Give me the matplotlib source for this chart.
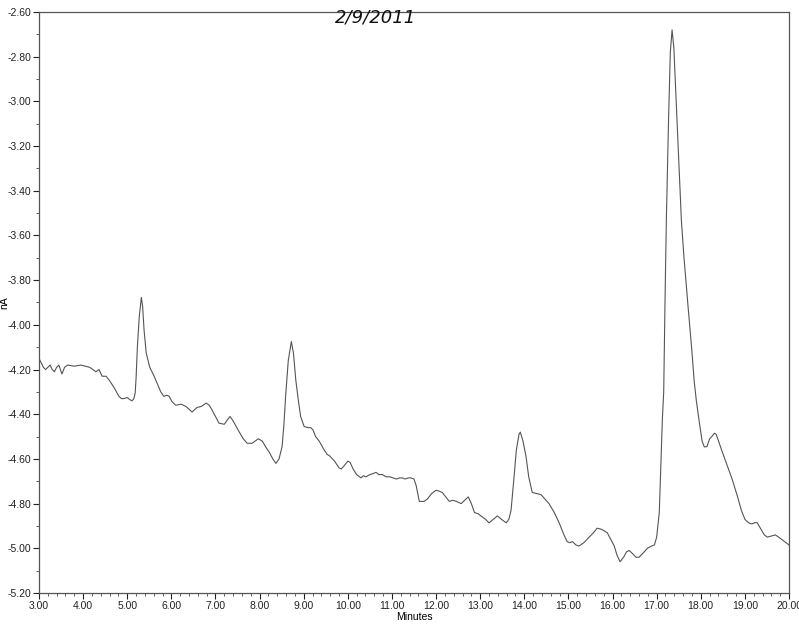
import matplotlib
matplotlib.use("Agg")
import matplotlib.pyplot as plt
from matplotlib.ticker import MultipleLocator, FormatStrFormatter

time_min = [3.00, 3.05, 3.10, 3.15, 3.20, 3.25, 3.30, 3.35, 3.40, 3.45, 3.52, 3.58, 3.65, 3.80, 3.95,
            4.05, 4.15, 4.29, 4.36, 4.43, 4.52, 4.60, 4.70, 4.81, 4.87, 4.93, 5.00, 5.06, 5.11, 5.15,
            5.18, 5.20, 5.23, 5.27, 5.32, 5.35, 5.38, 5.43, 5.51, 5.61, 5.71, 5.76, 5.83, 5.90, 5.95,
            6.02, 6.10, 6.22, 6.33, 6.47, 6.58, 6.68, 6.79, 6.86, 6.92, 7.00, 7.08, 7.20, 7.27, 7.33,
            7.40, 7.54, 7.63, 7.72, 7.83, 7.90, 7.97, 8.06, 8.15, 8.22, 8.30, 8.37, 8.44, 8.51, 8.55,
            8.59, 8.65, 8.72, 8.77, 8.82, 8.88, 8.93, 9.01, 9.10, 9.16, 9.21, 9.27, 9.35, 9.45, 9.53,
            9.58, 9.70, 9.80, 9.85, 9.92, 10.00, 10.05, 10.12, 10.20, 10.30, 10.35, 10.41, 10.50, 10.58,
            10.64, 10.70, 10.78, 10.87, 10.95, 11.03, 11.10, 11.17, 11.24, 11.30, 11.37, 11.43, 11.50,
            11.55, 11.62, 11.73, 11.80, 11.90, 12.00, 12.08, 12.14, 12.22, 12.30, 12.38, 12.46, 12.57,
            12.65, 12.73, 12.80, 12.87, 12.95, 13.05, 13.12, 13.20, 13.30, 13.39, 13.48, 13.59, 13.65,
            13.70, 13.75, 13.82, 13.88, 13.91, 13.97, 14.04, 14.10, 14.18, 14.28, 14.38, 14.47, 14.56,
            14.68, 14.79, 14.90, 14.97, 15.03, 15.09, 15.17, 15.24, 15.35, 15.47, 15.57, 15.65, 15.75,
            15.88, 15.96, 16.04, 16.10, 16.17, 16.25, 16.32, 16.38, 16.46, 16.53, 16.60, 16.70, 16.79,
            16.88, 16.95, 17.00, 17.06, 17.10, 17.13, 17.16, 17.19, 17.22, 17.27, 17.31, 17.35, 17.39,
            17.46, 17.54, 17.56, 17.62, 17.70, 17.80, 17.85, 17.90, 17.97, 18.03, 18.08, 18.14, 18.20,
            18.25, 18.31, 18.35, 18.42, 18.49, 18.60, 18.71, 18.82, 18.92, 19.00, 19.05, 19.12, 19.17,
            19.23, 19.28, 19.35, 19.44, 19.51, 19.60, 19.69, 19.80, 19.90, 20.00]

signal_nA = [-4.15, -4.17, -4.19, -4.20, -4.19, -4.18, -4.20, -4.21, -4.19, -4.18, -4.22, -4.19, -4.18, -4.185, -4.18,
             -4.185, -4.19, -4.21, -4.20, -4.23, -4.23, -4.25, -4.28, -4.32, -4.33, -4.33, -4.325, -4.335, -4.34, -4.33,
             -4.305, -4.24, -4.10, -3.97, -3.877, -3.92, -4.02, -4.126, -4.19, -4.23, -4.277, -4.30, -4.32, -4.315, -4.32,
             -4.345, -4.36, -4.355, -4.365, -4.39, -4.37, -4.365, -4.35, -4.36, -4.38, -4.41, -4.44, -4.445, -4.425, -4.41,
             -4.43, -4.48, -4.51, -4.53, -4.53, -4.52, -4.51, -4.52, -4.55, -4.57, -4.60, -4.62, -4.60, -4.545, -4.45,
             -4.32, -4.16, -4.075, -4.13, -4.246, -4.34, -4.41, -4.455, -4.46, -4.46, -4.47, -4.50, -4.52, -4.555, -4.58,
             -4.585, -4.61, -4.64, -4.645, -4.63, -4.61, -4.615, -4.645, -4.67, -4.685, -4.675, -4.68, -4.67, -4.665,
             -4.66, -4.67, -4.67, -4.68, -4.68, -4.685, -4.69, -4.685, -4.685, -4.69, -4.685, -4.685, -4.69,
             -4.72, -4.79, -4.79, -4.78, -4.755, -4.74, -4.745, -4.75, -4.77, -4.79, -4.785, -4.79, -4.80,
             -4.785, -4.77, -4.80, -4.84, -4.845, -4.86, -4.87, -4.886, -4.87, -4.855, -4.87, -4.886, -4.87,
             -4.83, -4.72, -4.56, -4.49, -4.48, -4.52, -4.59, -4.68, -4.75, -4.755, -4.76, -4.78, -4.80,
             -4.84, -4.886, -4.94, -4.97, -4.975, -4.97, -4.985, -4.99, -4.975, -4.95, -4.93, -4.91, -4.915,
             -4.93, -4.96, -4.99, -5.03, -5.06, -5.04, -5.015, -5.01, -5.025, -5.04, -5.04, -5.02, -5.00,
             -4.99, -4.985, -4.95, -4.84, -4.60, -4.42, -4.30, -3.89, -3.53, -3.08, -2.78, -2.68, -2.76,
             -3.08, -3.44, -3.53, -3.70, -3.89, -4.12, -4.25, -4.34, -4.44, -4.52, -4.546, -4.545, -4.51,
             -4.50, -4.485, -4.49, -4.53, -4.57, -4.63, -4.69, -4.76, -4.83, -4.87, -4.88, -4.89, -4.89,
             -4.885, -4.886, -4.91, -4.94, -4.95, -4.945, -4.94, -4.955, -4.97, -4.985]

x_range = (3.0, 20.0)
y_range = (-5.20, -2.60)
title_text = "2/9/2011"
x_label = "Minutes"
y_label = "nA"

plt.rcParams['font.family'] = ['Liberation Sans', 'DejaVu Sans']

fig = plt.figure(figsize=(7.99, 6.27), dpi=100)
ax = fig.add_axes([39/799, 1 - 593/627, (789 - 39)/799, (593 - 12)/627])

ax.plot(time_min, signal_nA, color='#555555', linewidth=0.8)

ax.set_xlim(*x_range)
ax.set_ylim(*y_range)
ax.xaxis.set_major_locator(MultipleLocator(1.0))
ax.xaxis.set_minor_locator(MultipleLocator(0.2))
ax.yaxis.set_major_locator(MultipleLocator(0.2))
ax.yaxis.set_minor_locator(MultipleLocator(0.1))
ax.xaxis.set_major_formatter(FormatStrFormatter('%.2f'))
ax.yaxis.set_major_formatter(FormatStrFormatter('%.2f'))

ax.tick_params(axis='both', which='major', direction='out', length=4, width=0.8,
               labelsize=7.5, colors='#222222', pad=1.5)
ax.tick_params(axis='both', which='minor', direction='out', length=2, width=0.6, colors='#444444')

for s in ax.spines.values():
    s.set_color('#555555')
    s.set_linewidth(0.9)

ax.set_xlabel(x_label, fontsize=7.5, labelpad=1)
ax.set_ylabel(y_label, fontsize=7.5)
ax.yaxis.set_label_coords(-0.040, 0.5)

fig.text(0.47, 0.972, title_text, fontsize=13, style='italic', ha='center', va='center',
         color='#111111', family=['DejaVu Sans'])

fig.savefig('out.png', dpi=100, facecolor='white')
